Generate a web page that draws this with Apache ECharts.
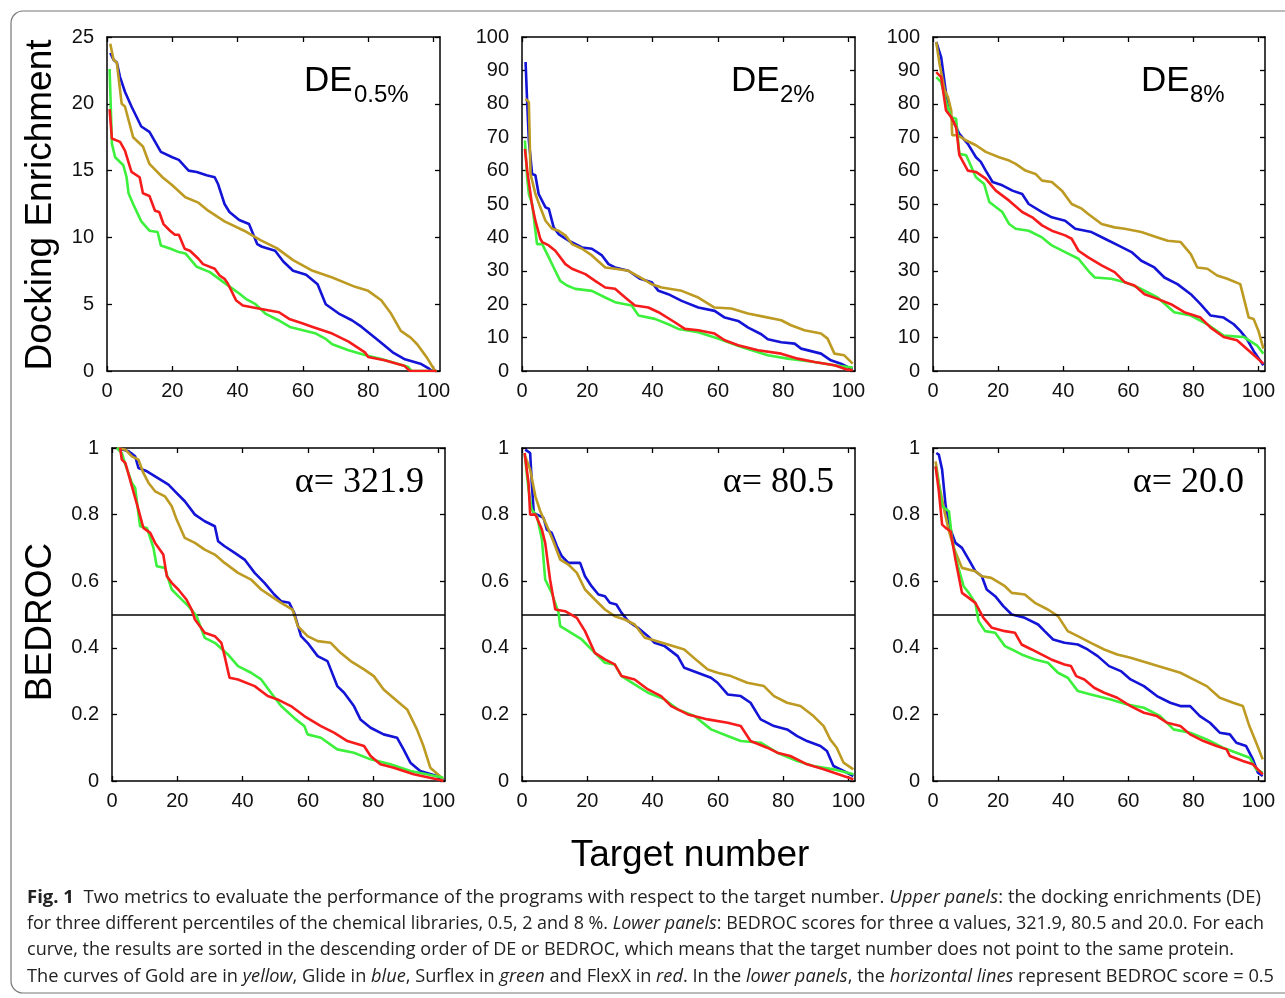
<!DOCTYPE html>
<html>
<head>
<meta charset="utf-8">
<title>DE and BEDROC vs target number</title>
<script src="https://cdn.jsdelivr.net/npm/echarts@6/dist/echarts.min.js"></script>
<style>
  html, body { margin: 0; padding: 0; background: #fff; }
  #chart { width: 1285px; height: 998px; }
</style>
</head>
<body>
<div id="chart"></div>
<script>
// tick values
const xTicks = [0, 20, 40, 60, 80, 100]
const de05Ticks = [0, 5, 10, 15, 20, 25]
const deTicks = [0, 10, 20, 30, 40, 50, 60, 70, 80, 90, 100]
const bedrocTicks = [0, 0.2, 0.4, 0.6, 0.8, 1]

// DE 0.5%
const de05Gold = [[1,24.5],[2,23.3],[3,23.1],[4.5,20],[5.5,19.8],[8,17.5],[11,16.8],[13,15.5],[17,14.5],[20,13.9],[24,13],[28,12.6],[31,12],[36,11.2],[42,10.5],[47,9.8],[52,9.2],[57,8.3],[63,7.5],[69,7],[76,6.3],[80,6],[84,5.3],[87,4.3],[90,3],[93,2.5],[95,2],[98,1],[100.5,0]]
const de05Glide = [[1,23.8],[2,23.3],[3,23.1],[4,22],[5.5,20.9],[7.5,19.8],[10.5,18.3],[13,17.9],[16.5,16.4],[20,16],[22,15.8],[25,15],[27.5,14.9],[30.5,14.65],[33,14.5],[34,14],[36,12.5],[37.5,11.9],[40.5,11.3],[43.5,11],[46,9.5],[47.5,9.3],[51.5,9],[54,8.2],[57,7.5],[61,7.2],[64.5,6.5],[67,5],[71,4.3],[75,3.8],[78,3.3],[82,2.5],[85,1.9],[87.5,1.4],[91,0.9],[96,0.55],[98.5,0.2],[99.5,0],[101,0]]
const de05Surflex = [[0.8,22.6],[1.5,17],[2.5,16],[5,15.4],[6,14.5],[6.6,13.3],[8,12.5],[10.5,11.2],[13,10.5],[15.5,10.4],[16.5,9.4],[19.5,9.15],[22,8.9],[24,8.8],[27.5,7.8],[31.5,7.4],[36.5,6.5],[40.5,5.8],[42.5,5.4],[45.5,5],[48.5,4.3],[52.5,3.8],[56,3.3],[60,3.05],[64,2.8],[67,2.4],[69,2],[74,1.55],[79,1.2],[84,0.9],[89,0.55],[92.3,0.3],[93.3,0],[101,0]]
const de05FlexX = [[0.8,19.6],[1.5,17.4],[4,17.15],[5.5,16.5],[7,15.3],[7.5,14.9],[10,14.5],[11,13.3],[13,13.1],[14.7,12],[16,11.9],[17.3,11],[19.3,10.5],[20.8,10.2],[22,10.2],[23.8,9.15],[25.4,9],[28,8.4],[29.4,8],[33,7.65],[34.5,7.15],[36,6.9],[37,6.55],[39.5,5.3],[41.6,4.9],[46,4.7],[52.7,4.4],[55.8,3.9],[60,3.55],[63,3.3],[69,2.8],[74,2.2],[79,1.4],[80,1.05],[85,0.8],[91,0.4],[92.8,0],[101,0]]

// DE 2%
const de2Gold = [[1.1,81.5],[2.1,80.5],[2.6,59],[3.6,55],[4.1,53],[5.6,49],[7.2,45],[9.2,42.6],[11.2,42],[13.3,40.6],[15.3,38],[18.4,36.6],[21.4,34.6],[25.5,31],[28.5,30.6],[32.6,30],[36.2,28],[39.7,26],[42.8,25],[48.9,24],[54,22],[59,19],[64.1,18.7],[69.2,17.2],[74.3,16.2],[79.4,15.2],[82.4,13.7],[86.5,12.2],[91.6,11.2],[93.6,9.7],[95.7,5.2],[98.7,4.7],[101.3,2.2]]
const de2Glide = [[1.1,92.5],[1.6,80],[2.1,69],[3.1,59],[4.1,58.6],[5.1,53],[7.2,49],[8.2,48.6],[9.7,43],[11.2,41],[14.3,39],[18.4,37],[21.4,36.6],[24.5,34.6],[26.5,32],[28.5,31],[32.6,30],[36.2,27.6],[39.7,26.6],[41.8,24],[44.8,23],[48.9,21],[54,19],[59,18],[62.1,16],[66.2,15],[69.3,13],[73.3,11],[75.3,9.5],[79.4,8.6],[83.5,8.2],[85.5,6.7],[91.6,5.2],[94.6,3.2],[97.7,2.2],[99.7,1.2],[101.3,0.7]]
const de2Surflex = [[0.9,69],[1.6,57.6],[2.1,53],[3.1,50],[4.6,38],[6.2,38],[8.2,34],[9.7,31],[11.7,27],[13.8,25.6],[16.3,24.6],[21.4,24],[25.5,22],[28.5,20.6],[33.6,19.6],[35.7,16.6],[40.7,15.6],[44.8,14],[47.9,12.6],[54,11.6],[60,9.7],[67.2,7.2],[75.3,4.7],[81.4,3.7],[89.6,2.7],[95.7,1.7],[101.3,1]]
const de2FlexX = [[0.9,66.5],[1.6,60],[3.1,49.6],[4.1,45],[5.6,39.6],[6.2,38.6],[8.2,37.6],[10.2,36],[13.3,32],[15.3,30.6],[19.4,29],[22.4,27],[25.5,25],[28.5,24.6],[31.6,22],[34.6,19.6],[38.7,19],[41.8,17.6],[46.8,14.6],[49.9,12.6],[54,12.2],[59,11.2],[62.1,9.2],[66.2,7.7],[72.3,6.2],[79.4,5.2],[84.5,3.7],[89.6,2.7],[95.7,1.7],[99.7,0.4],[101.3,0.2]]

// DE 8%
const de8Gold = [[1,98.5],[2,92],[3.6,84],[4.6,82],[5.6,78],[5.9,70.6],[7.6,70.6],[10.2,69],[13.2,67.6],[16.2,65.6],[20.3,64],[23.4,63],[25.4,62],[28.4,60],[31.5,59],[33.5,57],[36.5,56.6],[39.6,54],[42.6,50],[45.7,48.6],[47.7,47],[51.8,44],[55.8,43],[58.9,42.6],[64,41.6],[69,40],[72.1,39],[76.1,38.6],[79.2,35],[81.2,31],[84.3,30.6],[87.3,28.6],[90.4,27.6],[94.4,26],[97,16],[98.5,15.6],[100,12],[101.5,6.7]]
const de8Glide = [[1,98.5],[2.5,94],[3.6,86],[4.6,79],[5.6,76],[8.1,71],[10.7,68],[13.2,64],[14.7,62.6],[16.2,60],[18.3,56.6],[21.3,55.6],[24.4,54],[27.4,53],[29.4,50],[33.5,47.6],[36.5,46],[40.6,45],[43.7,42.6],[48.7,41.6],[52.8,39.6],[56.9,37.6],[61,35.6],[64,33],[68,31],[71.1,28],[75.1,26],[79.2,23],[82.2,20],[85.3,16.6],[89.3,16],[92.4,14],[94.4,12],[96.4,9.6],[98.5,6],[101.5,1.7]]
const de8Surflex = [[1,88],[2.5,86.5],[4,80.5],[5.6,76],[7.1,75.5],[8.1,65],[10.2,64.6],[13.2,58],[15.7,56],[17.3,50.6],[21.3,47.6],[23.4,44],[25.4,42.6],[29.4,42],[33.5,40],[36.5,37.6],[40.6,35.6],[44.7,33.6],[47.7,30],[49.7,28],[54.8,27.6],[58.9,26.6],[63,25],[69,22],[74.1,17.6],[79.2,16.6],[84.3,14],[89.3,10.6],[95.4,10.2],[99.5,7.7],[101.5,5.2]]
const de8FlexX = [[1,89.5],[2.5,88],[4,78],[5.6,76],[7.1,73],[8.1,64.6],[10.7,60],[13.2,59.6],[16.2,57.6],[19.3,54],[23.4,51],[27.4,47.6],[30.5,46],[33.5,43.6],[36.5,42],[40.6,40.6],[42.6,39.6],[44.7,36],[47.7,34],[51.8,31.6],[55.8,29.6],[58.9,26.6],[61.9,25.6],[65,23],[69,21.6],[73.1,20],[77.2,17.6],[82.2,16],[85.3,13],[89.3,10.2],[93.4,9.2],[97.5,5.7],[101.5,2.2]]

// BEDROC alpha = 321.9
const bed321Gold = [[1.5,1],[4.1,0.995],[6.1,0.975],[8.1,0.965],[9.6,0.925],[11.2,0.895],[13.2,0.87],[16.2,0.855],[18.3,0.825],[19.8,0.785],[22.3,0.73],[25.4,0.715],[28.4,0.695],[31.5,0.68],[34.5,0.655],[38.6,0.625],[42.6,0.605],[45.7,0.575],[48.7,0.555],[51.8,0.535],[55.3,0.515],[56.9,0.465],[59.9,0.435],[63,0.42],[67,0.415],[70,0.385],[73.1,0.36],[77.2,0.335],[80.2,0.315],[83.2,0.275],[87.3,0.24],[90.4,0.215],[93.4,0.155],[95.4,0.105],[97.5,0.04],[101.5,0.005]]
const bed321Glide = [[1.5,1],[5.1,0.99],[7.1,0.975],[8.1,0.94],[10.7,0.93],[13.2,0.915],[17.3,0.89],[19.3,0.87],[22.3,0.84],[25.4,0.8],[28.4,0.78],[31.5,0.765],[32.5,0.72],[34.5,0.705],[37.6,0.685],[40.6,0.665],[43.7,0.625],[46.7,0.595],[49.7,0.56],[51.8,0.54],[54.3,0.535],[55.8,0.505],[57.9,0.435],[59.9,0.415],[63,0.375],[66,0.36],[69,0.285],[71.1,0.265],[74.1,0.225],[76.1,0.185],[79.2,0.16],[83.2,0.14],[87.3,0.13],[89.3,0.095],[91.4,0.055],[94.4,0.03],[99.5,0.015],[101.5,0.003]]
const bed321Surflex = [[1.5,1],[3,0.985],[4.1,0.95],[6.1,0.895],[7.1,0.88],[8.6,0.765],[10.7,0.76],[12.7,0.7],[13.7,0.645],[16.2,0.64],[17.3,0.605],[18.3,0.575],[20.3,0.555],[23.4,0.525],[25.9,0.495],[28.4,0.43],[31.5,0.415],[35.5,0.38],[38.6,0.345],[42.6,0.325],[45.7,0.305],[48.7,0.265],[51.8,0.225],[56.3,0.185],[58.9,0.165],[59.9,0.14],[64,0.13],[69,0.095],[74.1,0.085],[79.2,0.065],[85.3,0.05],[91.4,0.03],[96.4,0.02],[101.5,0.01]]
const bed321FlexX = [[2.5,1],[3,0.965],[4.1,0.955],[6.1,0.885],[8.1,0.815],[9.6,0.76],[11.7,0.745],[13.2,0.715],[15.7,0.68],[16.8,0.615],[18.3,0.595],[20.3,0.575],[22.8,0.545],[24.4,0.515],[25.4,0.485],[28.4,0.445],[31.5,0.435],[33.5,0.415],[34.5,0.375],[36,0.31],[38.6,0.305],[43.7,0.285],[47.7,0.255],[50.7,0.245],[54.8,0.225],[58.9,0.195],[64,0.165],[68,0.145],[72.1,0.12],[77.2,0.105],[79.2,0.075],[82.2,0.05],[86.3,0.04],[92.4,0.02],[99.5,0.005],[101.5,0]]

// BEDROC alpha = 80.5
const bed80Gold = [[1,0.975],[2.5,0.935],[4.1,0.855],[5.6,0.81],[8.1,0.755],[9.6,0.72],[11.7,0.665],[14.2,0.65],[16.8,0.625],[19.3,0.575],[22.3,0.545],[25.4,0.515],[28.4,0.495],[31.5,0.485],[34.5,0.47],[37.6,0.43],[39.6,0.425],[44.7,0.41],[49.7,0.395],[53.8,0.36],[56.9,0.335],[59.9,0.325],[64,0.315],[69,0.295],[74.1,0.285],[77.2,0.255],[81.2,0.235],[85.3,0.225],[89.3,0.195],[92.4,0.165],[94.4,0.125],[96.4,0.1],[98.5,0.055],[101.5,0.035]]
const bed80Glide = [[1,0.995],[2.5,0.985],[3,0.895],[3.6,0.805],[4.1,0.8],[6.6,0.79],[7.6,0.755],[9.1,0.745],[10.7,0.705],[12.2,0.675],[14.2,0.655],[17.8,0.655],[19.3,0.615],[21.3,0.585],[23.4,0.56],[25.4,0.555],[26.9,0.535],[28.9,0.53],[30.5,0.505],[32.5,0.48],[35.5,0.46],[38.6,0.435],[40.6,0.415],[43.7,0.405],[47.7,0.375],[49.7,0.34],[53.8,0.325],[57.9,0.31],[59.9,0.295],[63,0.26],[67,0.255],[70,0.235],[73.1,0.185],[77.2,0.165],[81.2,0.155],[84.3,0.135],[87.3,0.12],[91.4,0.105],[93.4,0.09],[95.4,0.045],[98.5,0.03],[101.5,0.015]]
const bed80Surflex = [[0.8,0.985],[2,0.875],[3,0.815],[4.6,0.795],[6.1,0.725],[7.1,0.605],[9.1,0.565],[11.2,0.505],[11.7,0.465],[14.2,0.45],[18.3,0.425],[22.3,0.385],[25.4,0.355],[28.4,0.35],[30.5,0.315],[34.5,0.29],[38.6,0.265],[43.7,0.245],[47.7,0.215],[52.8,0.195],[57.9,0.155],[63,0.135],[67,0.12],[73.1,0.115],[78.2,0.085],[84.3,0.06],[89.3,0.045],[95.4,0.035],[101.5,0.02]]
const bed80FlexX = [[0.8,0.985],[2,0.895],[2.5,0.8],[4.1,0.8],[6.1,0.755],[7.1,0.715],[8.6,0.605],[10.2,0.515],[13.2,0.51],[16.8,0.49],[19.3,0.45],[22.3,0.385],[25.4,0.365],[28.4,0.35],[30.5,0.315],[34.5,0.305],[38.6,0.275],[42.6,0.255],[45.7,0.225],[50.8,0.2],[56.9,0.185],[63,0.175],[67,0.165],[70,0.12],[75.1,0.1],[78.2,0.085],[82.2,0.075],[87.3,0.05],[92.4,0.035],[98.5,0.015],[101.5,0.005]]

// BEDROC alpha = 20.0
const bed20Gold = [[0.8,0.96],[1.8,0.895],[3.4,0.815],[4.9,0.75],[6.4,0.7],[8.9,0.64],[13,0.63],[15,0.615],[17.9,0.61],[22.1,0.585],[24.2,0.565],[28.2,0.56],[31.3,0.535],[35.3,0.515],[38.4,0.495],[41.4,0.45],[44.5,0.435],[48.5,0.415],[52.6,0.395],[56.6,0.38],[60.7,0.37],[65.8,0.355],[70.9,0.34],[76,0.325],[80,0.305],[84.1,0.285],[88.1,0.25],[92.2,0.235],[95.2,0.225],[97.2,0.165],[99.3,0.115],[101.3,0.065]]
const bed20Glide = [[1,0.985],[1.8,0.98],[2.8,0.935],[3.9,0.825],[5.4,0.755],[6.9,0.715],[8.9,0.7],[11,0.665],[13,0.63],[15,0.615],[16.5,0.575],[19.1,0.555],[21.6,0.525],[24.2,0.5],[28.2,0.49],[32.3,0.47],[34.3,0.45],[36.9,0.425],[40.4,0.415],[44.5,0.41],[47.5,0.395],[50.6,0.375],[54.1,0.345],[57.7,0.33],[60.7,0.305],[64.8,0.285],[68.8,0.255],[72.9,0.235],[76,0.225],[79,0.225],[82,0.195],[85.1,0.175],[88.1,0.145],[91.2,0.14],[93.2,0.115],[96.2,0.105],[98.3,0.065],[99.8,0.025],[101.3,0.015]]
const bed20Surflex = [[0.8,0.945],[1.8,0.89],[2.8,0.825],[4.9,0.81],[5.9,0.725],[7.4,0.655],[9.4,0.585],[11,0.565],[13,0.535],[14,0.48],[16,0.45],[19.1,0.445],[22.1,0.405],[24.2,0.395],[27.2,0.38],[31.3,0.365],[35.3,0.355],[38.4,0.325],[41.4,0.31],[44.5,0.27],[48.5,0.26],[54.6,0.245],[59.7,0.23],[64.8,0.22],[69.8,0.195],[73.9,0.155],[79,0.145],[84.1,0.125],[89.1,0.1],[93.2,0.085],[97.3,0.07],[99.3,0.035],[101.3,0.025]]
const bed20FlexX = [[0.8,0.945],[1.8,0.87],[2.8,0.77],[3.9,0.76],[5.4,0.75],[6.9,0.665],[8.9,0.565],[11,0.55],[13,0.535],[15.5,0.49],[18.1,0.46],[22.1,0.45],[25.2,0.445],[27.2,0.41],[30.3,0.395],[33.3,0.38],[36.3,0.365],[40.4,0.35],[42.4,0.345],[44,0.315],[46.5,0.305],[49.5,0.28],[52.6,0.265],[56.6,0.25],[60.7,0.225],[64.8,0.205],[68.8,0.195],[71.9,0.175],[76,0.165],[79,0.14],[83.1,0.12],[87.1,0.105],[90.2,0.095],[91.2,0.075],[95.2,0.06],[98.3,0.05],[101.3,0.02]]

const programColors = {
  Glide: '#1414d6',
  Gold: '#bd9a22',
  Surflex: '#3cf03c',
  FlexX: '#f61c1c'
}

const panels = [
  { box: { left: 107, top: 37, width: 333, height: 334 }, ticks: de05Ticks,
    lines: { Glide: de05Glide, Gold: de05Gold, Surflex: de05Surflex, FlexX: de05FlexX } },
  { box: { left: 522, top: 37, width: 333, height: 334 }, ticks: deTicks,
    lines: { Glide: de2Glide, Gold: de2Gold, Surflex: de2Surflex, FlexX: de2FlexX } },
  { box: { left: 933, top: 37, width: 332, height: 334 }, ticks: deTicks,
    lines: { Glide: de8Glide, Gold: de8Gold, Surflex: de8Surflex, FlexX: de8FlexX } },
  { box: { left: 112, top: 448, width: 333, height: 333 }, ticks: bedrocTicks, half: true,
    lines: { Glide: bed321Glide, Gold: bed321Gold, Surflex: bed321Surflex, FlexX: bed321FlexX } },
  { box: { left: 522, top: 448, width: 333, height: 333 }, ticks: bedrocTicks, half: true,
    lines: { Glide: bed80Glide, Gold: bed80Gold, Surflex: bed80Surflex, FlexX: bed80FlexX } },
  { box: { left: 933, top: 448, width: 332, height: 333 }, ticks: bedrocTicks, half: true,
    lines: { Glide: bed20Glide, Gold: bed20Gold, Surflex: bed20Surflex, FlexX: bed20FlexX } }
]

const captionLines = [
  [['b', 'Fig. 1'], ['n', '  Two metrics to evaluate the performance of the programs with respect to the target number. '], ['i', 'Upper panels'], ['n', ': the docking enrichments (DE)']],
  [['n', 'for three different percentiles of the chemical libraries, 0.5, 2 and 8 %. '], ['i', 'Lower panels'], ['n', ': BEDROC scores for three \u03b1 values, 321.9, 80.5 and 20.0. For each']],
  [['n', 'curve, the results are sorted in the descending order of DE or BEDROC, which means that the target number does not point to the same protein.']],
  [['n', 'The curves of Gold are in '], ['i', 'yellow'], ['n', ', Glide in '], ['i', 'blue'], ['n', ', Surflex in '], ['i', 'green'], ['n', ' and FlexX in '], ['i', 'red'], ['n', '. In the '], ['i', 'lower panels'], ['n', ', the '], ['i', 'horizontal lines'], ['n', ' represent BEDROC score = 0.5']]
]
const captionRight = [1261, 1264, 1234, 1274]

const tickFont = 'Liberation Sans, Arial, sans-serif'
const capFont = 'Open Sans'
const capSize = 18

const chart = echarts.init(document.getElementById('chart'), null, { renderer: 'canvas' })

const grid = []
const xAxis = []
const yAxis = []
const series = []

panels.forEach((p, g) => {
  grid.push(Object.assign({ containLabel: false }, p.box))
  const yMax = p.ticks[p.ticks.length - 1]
  const yStep = p.ticks[1] - p.ticks[0]
  const line = { show: true, onZero: false, lineStyle: { color: '#000', width: 1.5 } }
  const tick = { show: true, inside: true, length: 5, lineStyle: { color: '#000', width: 1.3 } }
  ;['bottom', 'top'].forEach((pos) => {
    xAxis.push({
      type: 'value', gridIndex: g, position: pos, min: 0, max: 102,
      axisLine: line,
      axisTick: Object.assign({ customValues: xTicks }, tick),
      axisLabel: {
        show: pos === 'bottom', customValues: xTicks, margin: 10,
        color: '#111', fontSize: 20, fontFamily: tickFont
      },
      splitLine: { show: false }
    })
  })
  ;['left', 'right'].forEach((pos) => {
    yAxis.push({
      type: 'value', gridIndex: g, position: pos, min: 0, max: yMax, interval: yStep,
      axisLine: line,
      axisTick: tick,
      axisLabel: {
        show: pos === 'left', margin: 13,
        color: '#111', fontSize: 20, fontFamily: tickFont
      },
      splitLine: { show: false }
    })
  })
  Object.keys(p.lines).forEach((name, k) => {
    const s = {
      type: 'line', name: name,
      xAxisIndex: 2 * g, yAxisIndex: 2 * g,
      data: p.lines[name],
      showSymbol: false, symbol: 'none',
      lineStyle: { color: programColors[name], width: 2.6 },
      itemStyle: { color: programColors[name] },
      z: 3 + k,
      animation: false
    }
    if (p.half && k === 0) {
      s.markLine = {
        silent: true, symbol: 'none', animation: false,
        label: { show: false },
        lineStyle: { color: '#000', type: 'solid', width: 1.6 },
        data: [{ yAxis: 0.5 }]
      }
    }
    series.push(s)
  })
})

// caption, measured so each line spans the same width as in the figure
const ctx = document.createElement('canvas').getContext('2d')
const segFont = (kind) =>
  (kind === 'i' ? 'italic ' : '') + (kind === 'b' ? 'bold ' : '') + capSize + 'px "' + capFont + '"'
const capRich = {
  n: { fontFamily: capFont, fontSize: capSize, fill: '#222' },
  i: { fontFamily: capFont, fontSize: capSize, fontStyle: 'italic', fill: '#222' },
  b: { fontFamily: capFont, fontSize: capSize, fontWeight: 'bold', fill: '#222' }
}
const captionGraphics = captionLines.map((segs, i) => {
  let w = 0
  segs.forEach(([k, t]) => { ctx.font = segFont(k); w += ctx.measureText(t).width })
  const left = 27
  return {
    type: 'text', x: left, y: 897.5 + i * 26.4,
    scaleX: (captionRight[i] - left) / w,
    style: {
      text: segs.map(([k, t]) => '{' + k + '|' + t + '}').join(''),
      rich: capRich, fontFamily: capFont, fontSize: capSize,
      align: 'left', verticalAlign: 'middle'
    }
  }
})

const helv = 'Liberation Sans, Arial, sans-serif'
const times = 'Liberation Serif, Times New Roman, serif'
const labelText = (x, y, text, size, family, align) => ({
  type: 'text', x: x, y: y,
  style: { text: text, fontSize: size, fontFamily: family, fill: '#000', align: align || 'left', verticalAlign: 'middle' }
})

const graphic = [
  { type: 'rect', shape: { x: 11, y: 11, width: 1320, height: 982, r: 12 },
    style: { fill: 'none', stroke: '#777', lineWidth: 1.2 }, z: -1 },
  Object.assign(labelText(41, 205, 'Docking Enrichment', 37, helv, 'center'), { rotation: Math.PI / 2 }),
  Object.assign(labelText(41, 622, 'BEDROC', 37, helv, 'center'), { rotation: Math.PI / 2 }),
  labelText(690, 856, 'Target number', 37, helv, 'center'),
  labelText(304, 81, 'DE', 35, helv),
  labelText(354, 95, '0.5%', 24, helv),
  labelText(731, 81, 'DE', 35, helv),
  labelText(780, 95, '2%', 24, helv),
  labelText(1141, 81, 'DE', 35, helv),
  labelText(1190, 95, '8%', 24, helv),
  labelText(424, 483, '\u03b1= 321.9', 36, times, 'right'),
  labelText(834, 483, '\u03b1= 80.5', 36, times, 'right'),
  labelText(1244, 483, '\u03b1= 20.0', 36, times, 'right')
].concat(captionGraphics)

chart.setOption({
  backgroundColor: '#fff',
  animation: false,
  grid: grid,
  xAxis: xAxis,
  yAxis: yAxis,
  series: series,
  graphic: graphic
})
</script>
</body>
</html>
